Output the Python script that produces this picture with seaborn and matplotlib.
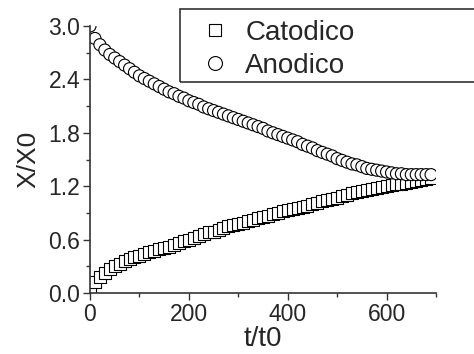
import pandas as pd
import matplotlib
matplotlib.use("Agg")
import matplotlib.pyplot as plt
from matplotlib.patches import Rectangle
import seaborn as sns

sns.set_style("ticks")
plt.rcParams['font.family'] = ['Liberation Sans', 'DejaVu Sans']

# tiempo (t/t0), muestreado cada 10
t = list(range(0, 700, 10))

catodico = [0.03, 0.12, 0.18, 0.23, 0.27, 0.30, 0.33, 0.36, 0.38, 0.40,
            0.42, 0.44, 0.46, 0.47, 0.49, 0.51, 0.52, 0.54, 0.56, 0.58,
            0.60, 0.62, 0.64, 0.66, 0.68, 0.69, 0.71, 0.73, 0.75, 0.76,
            0.78, 0.79, 0.81, 0.82, 0.84, 0.85, 0.87, 0.89, 0.90, 0.92,
            0.93, 0.94, 0.96, 0.97, 0.98, 1.00, 1.01, 1.03, 1.04, 1.06,
            1.07, 1.09, 1.10, 1.12, 1.13, 1.15, 1.16, 1.17, 1.18, 1.19,
            1.20, 1.21, 1.22, 1.23, 1.24, 1.25, 1.26, 1.27, 1.28, 1.29]

anodico = [3.00, 2.86, 2.79, 2.73, 2.68, 2.64, 2.60, 2.56, 2.52, 2.48,
           2.44, 2.41, 2.38, 2.35, 2.32, 2.29, 2.26, 2.24, 2.21, 2.19,
           2.16, 2.14, 2.12, 2.09, 2.07, 2.05, 2.03, 2.01, 1.99, 1.97,
           1.95, 1.93, 1.91, 1.89, 1.87, 1.85, 1.82, 1.80, 1.78, 1.76,
           1.74, 1.72, 1.70, 1.67, 1.65, 1.63, 1.60, 1.58, 1.56, 1.54,
           1.51, 1.49, 1.47, 1.45, 1.44, 1.42, 1.40, 1.39, 1.38, 1.37,
           1.36, 1.35, 1.34, 1.34, 1.33, 1.33, 1.33, 1.33, 1.33, 1.33]

df = pd.DataFrame({
    't': t + t,
    'X': catodico + anodico,
    'serie': ['Catodico'] * len(t) + ['Anodico'] * len(t),
})

fig = plt.figure(figsize=(4.74, 3.54), dpi=100)
ax = fig.add_axes([90 / 474, 1 - 293 / 354, 346 / 474, 267 / 354])

sns.scatterplot(data=df, x='t', y='X', style='serie',
                markers={'Catodico': 's', 'Anodico': 'o'},
                hue='serie', palette={'Catodico': 'white', 'Anodico': 'white'},
                edgecolor='black', linewidth=0.8, s=95, ax=ax, clip_on=True,
                legend=False)
# cuadrados un poco mas chicos
ax.collections[0].set_sizes([75])

ax.set_xlim(0, 700)
ax.set_ylim(0, 3.0)
ax.set_xticks([0, 200, 400, 600])
ax.set_xticks([100, 300, 500, 700], minor=True)
ax.set_yticks([0.0, 0.6, 1.2, 1.8, 2.4, 3.0])
ax.set_yticklabels(['0.0', '0.6', '1.2', '1.8', '2.4', '3.0'])
ax.set_yticks([0.3, 0.9, 1.5, 2.1, 2.7], minor=True)
ax.tick_params(which='major', direction='out', length=5, width=1, labelsize=16.5,
               color='#333333', pad=2)
ax.tick_params(which='minor', direction='out', length=3, width=1, color='#333333')
for side in ['top', 'right']:
    ax.spines[side].set_visible(False)
for side in ['left', 'bottom']:
    ax.spines[side].set_color('#333333')
    ax.spines[side].set_linewidth(1.2)

ax.set_xlabel('t/t0', fontsize=20, labelpad=0)
ax.set_ylabel('X/X0', fontsize=19, labelpad=6)

# leyenda
fig.patches.append(Rectangle((180 / 474, 1 - 82 / 354), 0.7, 73 / 354,
                             transform=fig.transFigure, fill=False,
                             edgecolor='#333333', linewidth=1.2))
h1 = plt.Line2D([], [], marker='s', linestyle='', markerfacecolor='white',
                markeredgecolor='black', markersize=9, markeredgewidth=0.8)
h2 = plt.Line2D([], [], marker='o', linestyle='', markerfacecolor='white',
                markeredgecolor='black', markersize=10, markeredgewidth=0.8)
fig.legend([h1, h2], ['Catodico', 'Anodico'], loc='upper left',
           bbox_to_anchor=(187 / 474, 1 - 6 / 354), frameon=False,
           fontsize=20, handletextpad=0.6, labelspacing=0.25,
           borderpad=0, handlelength=1.0)

fig.savefig('out.png', dpi=100)
